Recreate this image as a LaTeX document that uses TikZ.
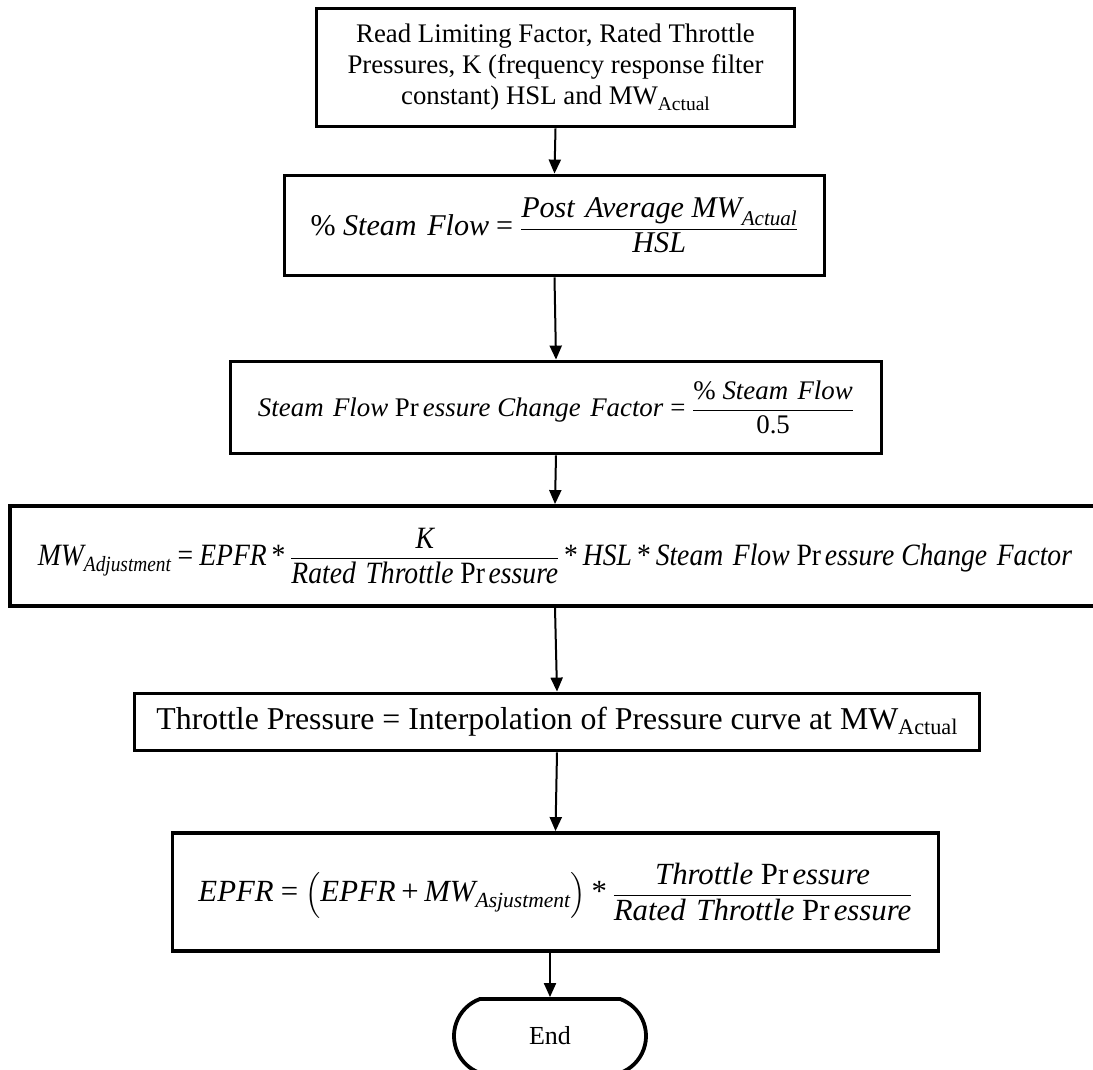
\documentclass[tikz,border=0pt]{standalone}
\usepackage{fontspec}
\setmainfont{Liberation Serif}
\usepackage{amsmath}
\usepackage{graphicx}
\usetikzlibrary{arrows.meta,shapes.misc}

% italic variable names and upright operators in the text face
\newcommand{\vi}[1]{\text{\itshape #1}}
\newcommand{\ws}{\hspace{0.35em}}
\newcommand{\teq}{\mathrel{\text{\upshape =}}}
\newcommand{\tplus}{\mathbin{\text{\upshape +}}}
\newcommand{\tast}{\mathbin{\text{\upshape *}}}
\newcommand{\prs}{\text{\upshape Pr}\,\vi{essure}}

\begin{document}
\begin{tikzpicture}[x=1pt,y=-1pt,
  procbox/.style={draw, line width=3.8pt, rectangle, inner sep=0pt},
  termbox/.style={draw, line width=3.8pt, rounded rectangle, rounded rectangle arc length=140, inner sep=0pt},
  flow/.style={line width=2pt, -{Triangle[length=14pt,width=12pt]}}]
\useasboundingbox (0,0) rectangle (1093,1070);

% input step
\node[procbox, minimum width=478pt, minimum height=118pt, align=center,
      font=\fontsize{26.8}{31}\selectfont] (read) at (555.5,67.5)
  {Read Limiting Factor, Rated Throttle\\
   Pressures, K (frequency response filter\\
   constant) HSL and MW\raisebox{-5.5pt}{\fontsize{19.5}{19.5}\selectfont Actual}};

% percentage of steam flow
\node[procbox, minimum width=540pt, minimum height=100pt] (steam) at (554.5,225.5)
  {\resizebox{488pt}{!}{\fontsize{30}{36}\selectfont
   $\displaystyle \text{\upshape\%\ }\vi{Steam\ws Flow}\teq
    \frac{\vi{Post\ws Average MW}_{\vi{Actual}}}{\vi{HSL}}$}};

% pressure change factor
\node[procbox, minimum width=651pt, minimum height=92pt] (factor) at (556,407.5)
  {\resizebox{596pt}{!}{\fontsize{27}{32}\selectfont
   $\displaystyle \vi{Steam\ws Flow}\ \prs\ \vi{Change\ws Factor}\teq
    \frac{\text{\upshape\%\ }\vi{Steam\ws Flow}}{\text{\upshape 0.5}}$}};

% megawatt adjustment
\node[procbox, minimum width=1090pt, minimum height=100pt] (adjust) at (555,556)
  {\resizebox{1034pt}{\height}{\fontsize{31}{37}\selectfont
   $\displaystyle \vi{MW}_{\vi{Adjustment}}\teq\vi{EPFR}\tast
    \frac{\vi{K}}{\vi{Rated\ws Throttle}\ \prs}\tast\vi{HSL}\tast
    \vi{Steam\ws Flow}\ \prs\ \vi{Change\ws Factor}$}};

% throttle pressure lookup
\node[procbox, minimum width=845pt, minimum height=57pt] (throttle) at (557,722)
  {\resizebox{801pt}{!}{\fontsize{30}{36}\selectfont
   Throttle Pressure = Interpolation of Pressure curve at
   MW\raisebox{-4pt}{\fontsize{21}{21}\selectfont Actual}}};

% updated EPFR
\node[procbox, minimum width=766pt, minimum height=118pt] (epfr) at (555.5,892)
  {\resizebox{714pt}{!}{\fontsize{30}{36}\selectfont
   $\displaystyle \vi{EPFR}\teq\Bigl(\vi{EPFR}\tplus\vi{MW}_{\vi{Asjustment}}\Bigr)\tast
    \frac{\vi{Throttle}\ \prs}{\vi{Rated\ws Throttle}\ \prs}$}};

% terminator
\node[termbox, minimum width=192pt, minimum height=74pt,
      font=\fontsize{26}{31}\selectfont] (stop) at (550,1036) {End};

% connectors
\draw[flow] (read.south) -- (steam.north);
\draw[flow] (steam.south) -- (factor.north);
\draw[flow] (factor.south) -- (adjust.north);
\draw[flow] (adjust.south) -- (throttle.north);
\draw[flow] (throttle.south) -- (epfr.north);
\draw[flow] (epfr.south -| stop.north) -- (stop.north);
\end{tikzpicture}
\end{document}
